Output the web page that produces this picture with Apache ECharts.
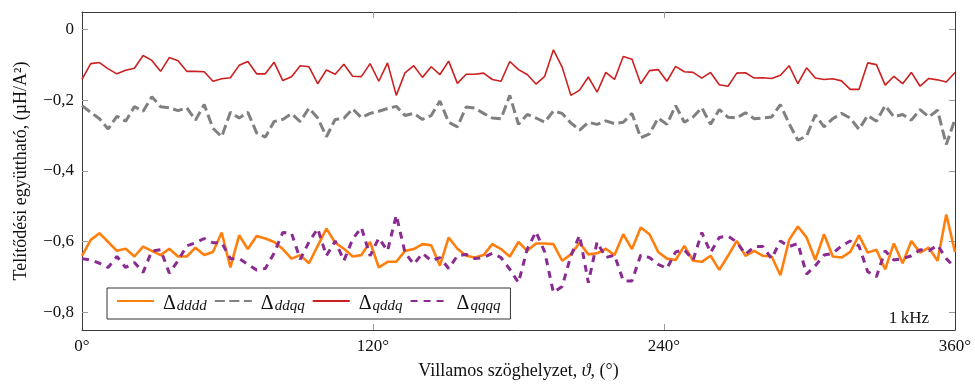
<!DOCTYPE html>
<html>
<head>
<meta charset="utf-8">
<script src="https://cdn.jsdelivr.net/npm/echarts@6/dist/echarts.min.js"></script>
<style>
  html, body { margin: 0; padding: 0; background: #ffffff; }
  #chart { width: 975px; height: 385px; }
</style>
</head>
<body>
<div id="chart"></div>
<script>
// Electrical angle (degrees) of each sample
const angles = [
  0, 3.6, 7.2, 10.8, 14.4, 18, 21.6, 25.2, 28.8, 32.4,
  36, 39.6, 43.2, 46.8, 50.4, 54, 57.6, 61.2, 64.8, 68.4,
  72, 75.6, 79.2, 82.8, 86.4, 90, 93.6, 97.2, 100.8, 104.4,
  108, 111.6, 115.2, 118.8, 122.4, 126, 129.6, 133.2, 136.8, 140.4,
  144, 147.6, 151.2, 154.8, 158.4, 162, 165.6, 169.2, 172.8, 176.4,
  180, 183.6, 187.2, 190.8, 194.4, 198, 201.6, 205.2, 208.8, 212.4,
  216, 219.6, 223.2, 226.8, 230.4, 234, 237.6, 241.2, 244.8, 248.4,
  252, 255.6, 259.2, 262.8, 266.4, 270, 273.6, 277.2, 280.8, 284.4,
  288, 291.6, 295.2, 298.8, 302.4, 306, 309.6, 313.2, 316.8, 320.4,
  324, 327.6, 331.2, 334.8, 338.4, 342, 345.6, 349.2, 352.8, 356.4,
  360
];

// Saturation coefficients, µH/A²
const dddd = [
  -0.640, -0.595, -0.576, -0.601, -0.626, -0.620, -0.642, -0.614, -0.626, -0.638,
  -0.620, -0.642, -0.642, -0.617, -0.638, -0.629, -0.574, -0.673, -0.582, -0.621,
  -0.584, -0.591, -0.601, -0.621, -0.648, -0.638, -0.661, -0.612, -0.563, -0.603,
  -0.620, -0.642, -0.638, -0.601, -0.673, -0.657, -0.657, -0.626, -0.621, -0.607,
  -0.610, -0.668, -0.588, -0.620, -0.640, -0.645, -0.638, -0.607, -0.621, -0.642,
  -0.601, -0.626, -0.605, -0.605, -0.607, -0.654, -0.636, -0.603, -0.636, -0.633,
  -0.620, -0.638, -0.579, -0.621, -0.560, -0.579, -0.629, -0.648, -0.652, -0.612,
  -0.654, -0.657, -0.640, -0.680, -0.640, -0.598, -0.640, -0.626, -0.640, -0.642,
  -0.695, -0.595, -0.557, -0.588, -0.652, -0.579, -0.642, -0.645, -0.629, -0.582,
  -0.631, -0.623, -0.678, -0.605, -0.661, -0.598, -0.631, -0.617, -0.654, -0.523,
  -0.629
];
const ddqq = [
  -0.215, -0.234, -0.252, -0.281, -0.245, -0.259, -0.218, -0.231, -0.190, -0.218,
  -0.221, -0.229, -0.221, -0.256, -0.212, -0.279, -0.303, -0.234, -0.250, -0.234,
  -0.292, -0.304, -0.260, -0.254, -0.238, -0.260, -0.222, -0.250, -0.303, -0.254,
  -0.251, -0.224, -0.249, -0.237, -0.231, -0.223, -0.217, -0.243, -0.237, -0.254,
  -0.243, -0.202, -0.262, -0.275, -0.219, -0.222, -0.237, -0.250, -0.252, -0.186,
  -0.268, -0.240, -0.250, -0.262, -0.230, -0.237, -0.264, -0.284, -0.262, -0.268,
  -0.258, -0.266, -0.262, -0.237, -0.306, -0.295, -0.250, -0.268, -0.215, -0.262,
  -0.247, -0.221, -0.268, -0.226, -0.248, -0.250, -0.235, -0.252, -0.250, -0.247,
  -0.212, -0.266, -0.313, -0.301, -0.241, -0.275, -0.252, -0.237, -0.250, -0.282,
  -0.243, -0.259, -0.215, -0.247, -0.240, -0.256, -0.226, -0.247, -0.228, -0.325,
  -0.254
];
const qddq = [
  -0.141, -0.096, -0.093, -0.111, -0.125, -0.115, -0.109, -0.073, -0.087, -0.118,
  -0.079, -0.088, -0.118, -0.118, -0.119, -0.146, -0.139, -0.136, -0.101, -0.090,
  -0.125, -0.125, -0.092, -0.144, -0.133, -0.102, -0.105, -0.153, -0.114, -0.126,
  -0.098, -0.132, -0.133, -0.096, -0.146, -0.094, -0.186, -0.122, -0.102, -0.135,
  -0.105, -0.127, -0.089, -0.152, -0.126, -0.126, -0.123, -0.141, -0.146, -0.090,
  -0.113, -0.127, -0.154, -0.132, -0.057, -0.106, -0.186, -0.171, -0.134, -0.177,
  -0.121, -0.141, -0.076, -0.084, -0.153, -0.116, -0.113, -0.146, -0.104, -0.119,
  -0.121, -0.137, -0.121, -0.156, -0.160, -0.123, -0.122, -0.137, -0.136, -0.138,
  -0.129, -0.102, -0.153, -0.108, -0.137, -0.141, -0.139, -0.145, -0.169, -0.169,
  -0.094, -0.099, -0.157, -0.132, -0.153, -0.121, -0.160, -0.138, -0.142, -0.148,
  -0.121
];
const qqqq = [
  -0.648, -0.652, -0.661, -0.673, -0.642, -0.673, -0.659, -0.687, -0.626, -0.623,
  -0.689, -0.654, -0.612, -0.603, -0.591, -0.603, -0.603, -0.648, -0.648, -0.664,
  -0.680, -0.676, -0.633, -0.574, -0.576, -0.650, -0.601, -0.563, -0.640, -0.598,
  -0.654, -0.593, -0.560, -0.640, -0.590, -0.626, -0.525, -0.631, -0.664, -0.633,
  -0.654, -0.645, -0.676, -0.640, -0.636, -0.648, -0.645, -0.633, -0.645, -0.678,
  -0.716, -0.621, -0.572, -0.629, -0.744, -0.727, -0.640, -0.582, -0.716, -0.601,
  -0.645, -0.638, -0.711, -0.711, -0.638, -0.645, -0.664, -0.676, -0.629, -0.623,
  -0.652, -0.574, -0.631, -0.588, -0.584, -0.601, -0.636, -0.614, -0.614, -0.648,
  -0.598, -0.614, -0.605, -0.692, -0.668, -0.638, -0.633, -0.612, -0.598, -0.612,
  -0.685, -0.699, -0.626, -0.652, -0.648, -0.640, -0.623, -0.626, -0.610, -0.648,
  -0.673
];

// Tick positions
const xTicks = [0, 120, 240, 360];
const yTicks = [-0.8, -0.6, -0.4, -0.2, 0];

const FONT = '"Liberation Serif", "DejaVu Serif", serif';
const FRAME = '#3a3a3a';
const TICK = '#9a9a9a';
const TEXT = '#111111';

function pairs(values) {
  return angles.map((a, i) => [a, values[i]]);
}

function yLabel(v) {
  if (Math.abs(v) < 1e-9) return '0';
  const s = Math.abs(v).toFixed(1).replace('.', ',');
  return (v < 0 ? '\u2212' : '') + s;
}

const chart = echarts.init(document.getElementById('chart'), null, { renderer: 'canvas' });

const baseX = {
  type: 'value', min: 0, max: 360,
  splitLine: { show: false },
  axisLine: { show: true, onZero: false, lineStyle: { color: FRAME, width: 1 } },
  axisTick: { show: true, inside: true, length: 6, customValues: [120, 240], lineStyle: { color: TICK } }
};
const baseY = {
  type: 'value', min: -0.85, max: 0.05,
  splitLine: { show: false },
  axisLine: { show: true, onZero: false, lineStyle: { color: FRAME, width: 1 } },
  axisTick: { show: true, inside: true, length: 6, customValues: yTicks, lineStyle: { color: TICK } }
};

const option = {
  animation: false,
  backgroundColor: '#ffffff',
  grid: { left: 82, right: 20, top: 12, bottom: 54, containLabel: false },
  xAxis: [
    Object.assign({}, baseX, {
      position: 'bottom',
      name: 'Villamos szöghelyzet, {th|ϑ}, (°)',
      nameLocation: 'middle',
      nameGap: 32,
      nameTextStyle: {
        fontFamily: FONT, fontSize: 18, color: TEXT,
        rich: { th: { fontFamily: FONT, fontSize: 18, fontStyle: 'italic', color: TEXT } }
      },
      axisLabel: {
        show: true, margin: 8, customValues: xTicks,
        formatter: v => v + '°',
        fontFamily: FONT, fontSize: 17, color: TEXT
      }
    }),
    Object.assign({}, baseX, { position: 'top', axisLabel: { show: false } })
  ],
  yAxis: [
    Object.assign({}, baseY, {
      position: 'left',
      name: 'Telítődési együttható, (µH/A²)',
      nameLocation: 'middle',
      nameGap: 52,
      nameRotate: 90,
      nameTextStyle: { fontFamily: FONT, fontSize: 18, color: TEXT },
      axisLabel: {
        show: true, margin: 8, customValues: yTicks,
        formatter: yLabel,
        fontFamily: FONT, fontSize: 17, color: TEXT
      }
    }),
    Object.assign({}, baseY, { position: 'right', axisLabel: { show: false } })
  ],
  legend: {
    left: 107, top: 288,
    orient: 'horizontal',
    backgroundColor: '#ffffff',
    borderColor: '#333333', borderWidth: 1,
    padding: [6, 10, 5, 9],
    itemWidth: 37, itemHeight: 14, itemGap: 7,
    itemStyle: { opacity: 0, color: 'rgba(0,0,0,0)', borderWidth: 0 },
    data: ['dddd', 'ddqq', 'qddq', 'qqqq'],
    formatter: name => '{d|Δ}{s|' + name + '}',
    textStyle: {
      fontFamily: FONT,
      rich: {
        d: { fontFamily: FONT, fontSize: 20, color: TEXT, padding: [0, 0, 0, 4], verticalAlign: 'bottom' },
        s: { fontFamily: FONT, fontSize: 15, fontStyle: 'italic', color: TEXT, padding: [11, 0, 0, 1], verticalAlign: 'bottom' }
      }
    }
  },
  graphic: [{
    type: 'text',
    right: 46, top: 310,
    style: { text: '1\u2009kHz', fontFamily: FONT, fontSize: 17, fill: TEXT }
  }],
  series: [
    {
      name: 'dddd', type: 'line', data: pairs(dddd),
      showSymbol: false, symbol: 'none',
      lineStyle: { color: '#ff7f0e', width: 2.6 }, itemStyle: { color: '#ff7f0e' }
    },
    {
      name: 'ddqq', type: 'line', data: pairs(ddqq),
      showSymbol: false, symbol: 'none',
      lineStyle: { color: '#808080', width: 3, type: [10, 4.5] }, itemStyle: { color: '#808080' }
    },
    {
      name: 'qddq', type: 'line', data: pairs(qddq),
      showSymbol: false, symbol: 'none',
      lineStyle: { color: '#cc1f1f', width: 1.6 }, itemStyle: { color: '#cc1f1f' }
    },
    {
      name: 'qqqq', type: 'line', data: pairs(qqqq),
      showSymbol: false, symbol: 'none',
      lineStyle: { color: '#8a2b92', width: 3, type: [7, 6] }, itemStyle: { color: '#8a2b92' }
    }
  ]
};

chart.setOption(option);
</script>
</body>
</html>
